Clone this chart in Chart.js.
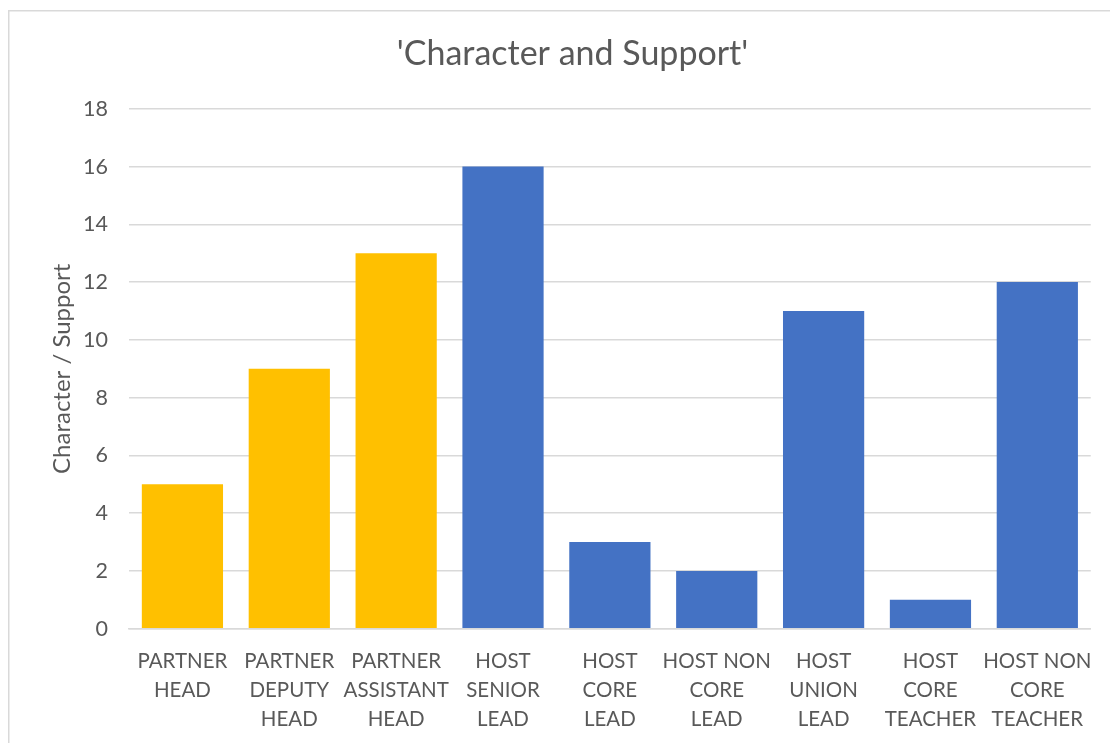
<!DOCTYPE html>
<html>
<head>
<meta charset="utf-8">
<script src="https://cdn.jsdelivr.net/npm/chart.js@4/dist/chart.umd.min.js"></script>
<style>
  html, body { margin: 0; padding: 0; background: #fff; }
  #wrap { position: relative; width: 1110px; height: 743px; }
</style>
</head>
<body>
<div id="wrap"><canvas id="c" width="1110" height="743"></canvas></div>
<script>
const categories = [
  ["PARTNER", "HEAD"],
  ["PARTNER", "DEPUTY", "HEAD"],
  ["PARTNER", "ASSISTANT", "HEAD"],
  ["HOST", "SENIOR", "LEAD"],
  ["HOST", "CORE", "LEAD"],
  ["HOST NON", "CORE", "LEAD"],
  ["HOST", "UNION", "LEAD"],
  ["HOST", "CORE", "TEACHER"],
  ["HOST NON", "CORE", "TEACHER"]
];
const scores = [5, 9, 13, 16, 3, 2, 11, 1, 12];
const groups = ["partner", "partner", "partner", "host", "host", "host", "host", "host", "host"];
const groupColors = { partner: "#FFC000", host: "#4472C4" };

const FONT = "Lato, 'Open Sans', sans-serif";
const TEXT = "#595959";

// outer chart-area frame
const framePlugin = {
  id: "frame",
  beforeDraw(chart) {
    const ctx = chart.ctx;
    ctx.save();
    ctx.fillStyle = "#fff";
    ctx.fillRect(0, 0, chart.width, chart.height);
    ctx.strokeStyle = "#d9d9d9";
    ctx.lineWidth = 1.5;
    ctx.strokeRect(8.75, 10.75, chart.width + 20, chart.height + 20);
    ctx.restore();
  }
};

new Chart(document.getElementById("c"), {
  type: "bar",
  data: {
    labels: categories,
    datasets: [{
      data: scores,
      backgroundColor: groups.map(g => groupColors[g]),
      barPercentage: 0.76,
      categoryPercentage: 1.0
    }]
  },
  options: {
    responsive: false,
    animation: false,
    layout: { padding: { left: 45, right: 10, top: 20, bottom: -9 } },
    plugins: {
      legend: { display: false },
      tooltip: { enabled: false },
      title: {
        display: true,
        text: "'Character and Support'",
        color: TEXT,
        font: { family: FONT, size: 34, weight: "normal" },
        padding: { top: 14, bottom: 34 }
      }
    },
    scales: {
      x: {
        grid: { display: false, drawTicks: false },
        border: { display: true, color: "#d9d9d9", width: 1.5 },
        ticks: {
          color: TEXT,
          font: { family: FONT, size: 20.5, lineHeight: 1.42 },
          maxRotation: 0,
          minRotation: 0,
          autoSkip: false,
          padding: 18
        }
      },
      y: {
        min: 0,
        max: 18,
        afterFit(scale) { scale.width = 84; },
        grid: { color: "#d9d9d9", lineWidth: 1.5, drawTicks: false },
        border: { display: false },
        ticks: {
          stepSize: 2,
          color: TEXT,
          font: { family: FONT, size: 21.5 },
          padding: 21
        },
        title: {
          display: true,
          text: "Character / Support",
          color: TEXT,
          font: { family: FONT, size: 24 },
          padding: { top: 3, bottom: 0 }
        }
      }
    }
  },
  plugins: [framePlugin]
});
</script>
</body>
</html>
